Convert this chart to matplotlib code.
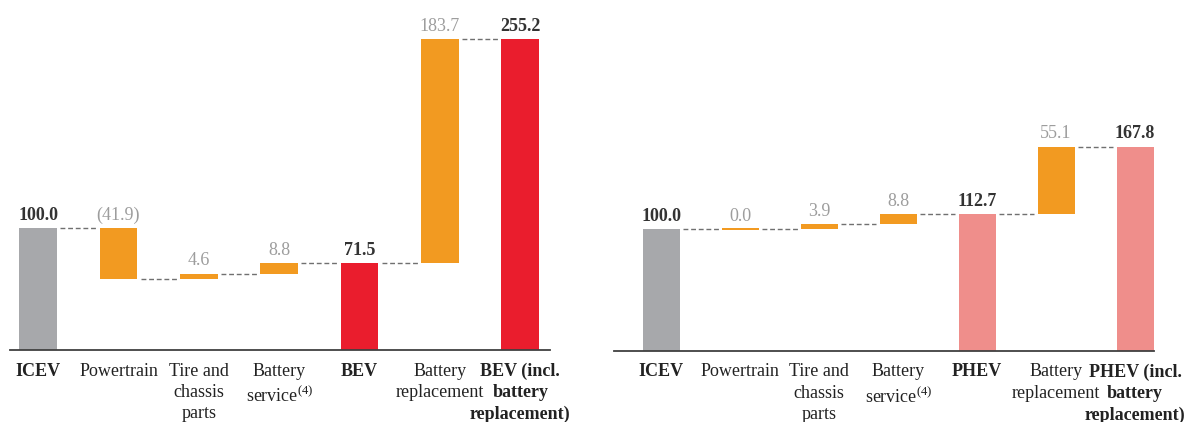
import matplotlib.pyplot as plt

plt.rcParams['font.family'] = ['Liberation Serif', 'DejaVu Serif']
plt.rcParams['mathtext.fontset'] = 'custom'
plt.rcParams['mathtext.rm'] = 'Liberation Serif'

bev_labels = ['ICEV', 'Powertrain', 'Tire and\nchassis\nparts', 'Battery\nservice$^{(4)}$',
              'BEV', 'Battery\nreplacement', 'BEV (incl.\nbattery\nreplacement)']
bev_values = [100.0, -41.9, 4.6, 8.8, 71.5, 183.7, 255.2]
bev_total = [True, False, False, False, True, False, True]

phev_labels = ['ICEV', 'Powertrain', 'Tire and\nchassis\nparts', 'Battery\nservice$^{(4)}$',
               'PHEV', 'Battery\nreplacement', 'PHEV (incl.\nbattery\nreplacement)']
phev_values = [100.0, 0.0, 3.9, 8.8, 112.7, 55.1, 167.8]
phev_total = [True, False, False, False, True, False, True]

GREY = '#a7a8ab'
ORANGE = '#f29a21'
DELTA_TXT = '#9d9d9d'
TOTAL_TXT = '#333333'


def fmt(v):
    if v < 0:
        return '(%.1f)' % abs(v)
    return '%.1f' % v


def waterfall(ax, labels, values, totals, total_color, xlim):
    w = 0.47
    level = 0
    tops = []
    for i, (v, t) in enumerate(zip(values, totals)):
        if t:
            bottom, height = 0, v
            level = v
            color = GREY if i == 0 else total_color
        else:
            bottom, height = level, v
            level = level + v
            color = ORANGE
        if height == 0:
            # flat segment, draw a thin bar so it is still visible
            ax.bar(i, 1.6, bottom=bottom - 0.8, width=w, color=color, linewidth=0)
        else:
            ax.bar(i, height, bottom=bottom, width=w, color=color, linewidth=0)
        top = max(bottom, bottom + height)
        tops.append((bottom, level))
        ax.annotate(fmt(v), (i, top), xytext=(0, 3), textcoords='offset points',
                    ha='center', va='bottom', fontsize=13,
                    color=TOTAL_TXT if t else DELTA_TXT,
                    fontweight='bold' if t else 'normal')
    # dashed connectors
    for i in range(len(values) - 1):
        y = tops[i][1]
        ax.plot([i + w / 2 + 0.04, i + 1 - w / 2 - 0.04], [y, y], color='#707070',
                lw=1, dashes=(3.5, 2))
    ax.set_xticks(range(len(labels)))
    ax.set_xticklabels(labels, fontsize=13, color='#222222', linespacing=1.32)
    for lab, t in zip(ax.get_xticklabels(), totals):
        if t:
            lab.set_fontweight('bold')
    ax.tick_params(axis='x', length=0, pad=9)
    ax.set_yticks([])
    ax.set_ylim(0, 270)
    ax.set_xlim(*xlim)
    for s in ['top', 'left', 'right']:
        ax.spines[s].set_visible(False)
    ax.spines['bottom'].set_color('#404040')
    ax.spines['bottom'].set_linewidth(1.3)


fig = plt.figure(figsize=(11.98, 4.22), dpi=100)
ax1 = fig.add_axes([10 / 1198, 72 / 422, 540 / 1198, 329 / 422])
ax2 = fig.add_axes([614 / 1198, 71 / 422, 540 / 1198, 329 / 422])

waterfall(ax1, bev_labels, bev_values, bev_total, '#ea1d2d', (-0.35, 6.37))
waterfall(ax2, phev_labels, phev_values, phev_total, '#ef8e8b', (-0.6, 6.24))

fig.savefig('out.png', dpi=100)
